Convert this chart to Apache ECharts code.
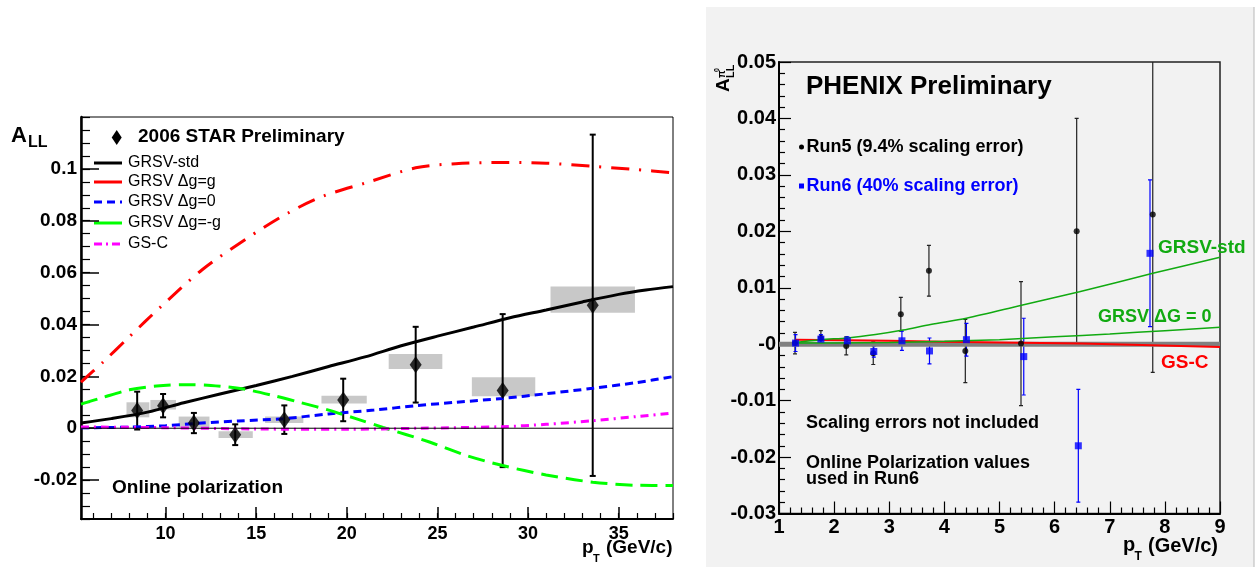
<!DOCTYPE html>
<html><head><meta charset="utf-8">
<script src="https://cdn.jsdelivr.net/npm/echarts@6/dist/echarts.min.js"></script>
<style>html,body{margin:0;padding:0;background:#fff}#c{width:1258px;height:567px}</style>
</head><body><div id="c"></div>
<script>
// ================= LEFT PANEL: STAR =================
const starX   = [8.43, 9.86, 11.56, 13.84, 16.55, 19.8, 23.8, 28.6, 33.57];
const starY   = [0.0068, 0.0087, 0.0020, -0.0025, 0.0033, 0.0109, 0.0245, 0.0145, 0.0474];
const starErr = [0.0073, 0.0045, 0.0039, 0.0040, 0.0055, 0.0082, 0.0146, 0.0295, 0.0658];
const sysXLo  = [7.84, 9.16, 10.72, 12.92, 15.49, 18.6, 22.31, 26.9, 31.24];
const sysXHi  = [9.10, 10.57, 12.42, 14.81, 17.60, 21.1, 25.27, 30.4, 35.9];
const sysYLo  = [0.0042, 0.0072, 0.0004, -0.0038, 0.0020, 0.0095, 0.0228, 0.0123, 0.0445];
const sysYHi  = [0.0100, 0.0109, 0.0045, -0.0012, 0.0045, 0.0125, 0.0286, 0.0197, 0.0546];

const stdX = [5.33, 7, 9, 11, 13, 15, 17, 19, 21, 23, 25, 27, 29, 31, 33, 35, 36.5, 38];
const stdY = [0.0020, 0.0037, 0.0062, 0.0098, 0.0132, 0.0165, 0.0200, 0.0238, 0.0275, 0.0318, 0.0355, 0.0390, 0.0426, 0.0456, 0.0487, 0.0516, 0.0533, 0.0546];
const ggX  = [5.33, 6.5, 8, 9.7, 12, 14.4, 16.76, 18.7, 21, 23.8, 26, 28.6, 31, 33.57, 36, 38];
const ggY  = [0.0178, 0.0252, 0.0353, 0.0466, 0.0610, 0.0728, 0.0830, 0.0895, 0.0945, 0.1004, 0.1020, 0.1025, 0.1022, 0.1010, 0.0997, 0.0985];
const g0X  = [5.33, 8, 10, 12, 14, 16.5, 19, 21.5, 23.8, 26, 28.6, 31, 33.57, 36, 38];
const g0Y  = [0.0002, 0.0004, 0.0010, 0.0020, 0.0028, 0.0037, 0.0055, 0.0070, 0.0087, 0.0100, 0.0115, 0.0133, 0.0154, 0.0176, 0.0199];
const gmX  = [5.33, 6.5, 8, 9.5, 11, 12.5, 14.3, 16, 17.5, 19, 20.5, 22, 24.6, 26.5, 28.6, 31, 33.57, 36, 38];
const gmY  = [0.0093, 0.0118, 0.0148, 0.0163, 0.0168, 0.0165, 0.0151, 0.0125, 0.0098, 0.0070, 0.0037, 0.0003, -0.0054, -0.0103, -0.0144, -0.0180, -0.0208, -0.0220, -0.0221];
const gscX = [5.33, 10, 15, 20, 24, 28.6, 31, 33.57, 36, 38];
const gscY = [0.0005, 0.0002, -0.0003, -0.0004, 0.0000, 0.0006, 0.0015, 0.0029, 0.0045, 0.0059];
const zeroX = [5.33, 38];
const zeroY = [0, 0];

const leftXTicks  = [10, 15, 20, 25, 30, 35];
const leftXLabels = ['10', '15', '20', '25', '30', '35'];
const leftYTicks  = [-0.02, 0, 0.02, 0.04, 0.06, 0.08, 0.1];
const leftYLabels = ['-0.02', '0', '0.02', '0.04', '0.06', '0.08', '0.1'];
const leftXMinor  = [6,7,8,9,10,11,12,13,14,15,16,17,18,19,20,21,22,23,24,25,26,27,28,29,30,31,32,33,34,35,36,37,38];

// ================= RIGHT PANEL: PHENIX =================
const run5X   = [1.29, 1.76, 2.22, 2.71, 3.21, 3.72, 4.38, 5.39, 6.40, 7.78];
const run5Y   = [0.0002, 0.0011, -0.0003, -0.0016, 0.0053, 0.0130, -0.0012, 0.0001, 0.0200, 0.0230];
const run5Err = [0.0019, 0.0013, 0.0016, 0.0020, 0.0030, 0.0045, 0.0056, 0.0110, 0.0200, 0.0280];
const run6X   = [1.30, 1.76, 2.24, 2.72, 3.23, 3.73, 4.40, 5.44, 6.43, 7.73];
const run6Y   = [0.0002, 0.0009, 0.0006, -0.0013, 0.0006, -0.0012, 0.0008, -0.0022, -0.0180, 0.0161];
const run6Err = [0.0015, 0.0008, 0.0007, 0.0010, 0.0017, 0.0023, 0.0029, 0.0068, 0.0100, 0.0130];

const pStdX = [1.3, 1.75, 2.25, 2.75, 3.25, 3.75, 4.4, 5.4, 6.45, 7.8, 9];
const pStdY = [0.0003, 0.0008, 0.0011, 0.0017, 0.0025, 0.0035, 0.0046, 0.0069, 0.0093, 0.0126, 0.0154];
const pG0X  = [1.3, 2, 3, 4, 5, 6, 7, 8, 9];
const pG0Y  = [0.0002, 0.0002, 0.0003, 0.0005, 0.0008, 0.0013, 0.0018, 0.0024, 0.0030];
const pGscX = [1.3, 3, 5, 6.5, 9];
const pGscY = [0.0008, 0.0006, 0.0003, 0.0001, -0.0005];
const bandX = [1, 9];
const bandY = [0, 0];

const rightYLabels = ['-0.03', '-0.02', '-0.01', '-0', '0.01', '0.02', '0.03', '0.04', '0.05'];
const rightXLabels = ['1', '2', '3', '4', '5', '6', '7', '8', '9'];

// ================= helpers =================
const FONT = '"Liberation Sans", Arial, sans-serif';
function zip(a, b) { return a.map((v, i) => [v, b[i]]); }
function lookup(vals, labels, v) {
  let best = 0;
  for (let i = 1; i < vals.length; i++) if (Math.abs(vals[i] - v) < Math.abs(vals[best] - v)) best = i;
  return labels[best];
}
function errItem(color, cap, lw) {
  return function (params, api) {
    const x = api.value(0);
    const a = api.coord([x, api.value(2)]), b = api.coord([x, api.value(1)]);
    const st = { stroke: color, lineWidth: lw };
    return { type: 'group', children: [
      { type: 'line', shape: { x1: a[0], y1: a[1], x2: b[0], y2: b[1] }, style: st },
      { type: 'line', shape: { x1: a[0] - cap, y1: a[1], x2: a[0] + cap, y2: a[1] }, style: st },
      { type: 'line', shape: { x1: b[0] - cap, y1: b[1], x2: b[0] + cap, y2: b[1] }, style: st }
    ]};
  };
}
function boxItem(params, api) {
  const p1 = api.coord([api.value(0), api.value(3)]);
  const p2 = api.coord([api.value(1), api.value(2)]);
  return { type: 'rect', shape: { x: p1[0], y: p1[1], width: p2[0] - p1[0], height: p2[1] - p1[1] }, style: { fill: '#c8c8c8' } };
}
function curve(x, y, color, width, dash, xi, yi, smooth) {
  return { type: 'line', xAxisIndex: xi, yAxisIndex: yi, data: zip(x, y), symbol: 'none', smooth: smooth,
    lineStyle: { color: color, width: width, type: dash }, silent: true, z: 2 };
}

const starErrData = starX.map((x, i) => [x, starY[i] - starErr[i], starY[i] + starErr[i]]);
const sysData = sysXLo.map((x, i) => [x, sysXHi[i], sysYLo[i], sysYHi[i]]);
const run5ErrData = run5X.map((x, i) => [x, run5Y[i] - run5Err[i], run5Y[i] + run5Err[i]]);
const run6ErrData = run6X.map((x, i) => [x, run6Y[i] - run6Err[i], run6Y[i] + run6Err[i]]);

const labelBase = { color: '#000', fontWeight: 'bold', fontFamily: FONT };

const option = {
  backgroundColor: '#fff',
  animation: false,
  textStyle: { fontFamily: FONT },
  grid: [
    { left: 81, top: 117, width: 592, height: 402, show: true, borderColor: '#000', borderWidth: 1, backgroundColor: 'transparent' },
    { left: 779, top: 62, width: 441, height: 451.5, show: true, borderColor: '#222', borderWidth: 1.5, backgroundColor: 'transparent' }
  ],
  xAxis: [
    { gridIndex: 0, type: 'value', position: 'bottom', min: 5.33, max: 38,
      axisLine: { onZero: false, lineStyle: { color: '#000', width: 2 } },
      axisTick: { inside: true, length: 12, customValues: leftXTicks, lineStyle: { color: '#000', width: 1.5 } },
      axisLabel: Object.assign({ customValues: leftXTicks, fontSize: 18, margin: 6,
        formatter: v => lookup(leftXTicks, leftXLabels, v) }, labelBase),
      splitLine: { show: false } },
    { gridIndex: 0, type: 'value', position: 'bottom', min: 5.33, max: 38,
      axisLine: { show: false, onZero: false },
      axisTick: { inside: true, length: 6, customValues: leftXMinor, lineStyle: { color: '#000', width: 1.2 } },
      axisLabel: { show: false }, splitLine: { show: false } },
    { gridIndex: 1, type: 'value', position: 'bottom', min: 1, max: 9, interval: 1,
      axisLine: { onZero: false, lineStyle: { color: '#000', width: 2 } },
      axisTick: { inside: true, length: 12, lineStyle: { color: '#000', width: 1.2 } },
      minorTick: { show: true, splitNumber: 5, length: 6, lineStyle: { color: '#000', width: 1.2 } },
      axisLabel: Object.assign({ fontSize: 20, margin: 4,
        formatter: v => rightXLabels[Math.round(v) - 1] }, labelBase),
      splitLine: { show: false } }
  ],
  yAxis: [
    { gridIndex: 0, type: 'value', position: 'left', min: -0.035, max: 0.12,
      axisLine: { onZero: false, lineStyle: { color: '#000', width: 2.5 } },
      axisTick: { inside: true, length: 18, customValues: leftYTicks, lineStyle: { color: '#000', width: 1.5 } },
      axisLabel: Object.assign({ customValues: leftYTicks, fontSize: 19, margin: 4,
        formatter: v => lookup(leftYTicks, leftYLabels, v) }, labelBase),
      splitLine: { show: false } },
    { gridIndex: 0, type: 'value', position: 'left', min: -0.035, max: 0.12, interval: 0.005,
      axisLine: { show: false, onZero: false },
      axisTick: { inside: true, length: 9, lineStyle: { color: '#000', width: 1.2 } },
      axisLabel: { show: false }, splitLine: { show: false } },
    { gridIndex: 1, type: 'value', position: 'left', min: -0.03, max: 0.05, interval: 0.01,
      axisLine: { onZero: false, lineStyle: { color: '#000', width: 2 } },
      axisTick: { inside: true, length: 12, lineStyle: { color: '#000', width: 1.2 } },
      minorTick: { show: true, splitNumber: 5, length: 6, lineStyle: { color: '#000', width: 1.2 } },
      axisLabel: Object.assign({ fontSize: 20, margin: 3,
        formatter: v => rightYLabels[Math.round(v * 100) + 3] }, labelBase),
      splitLine: { show: false } }
  ],
  series: [
    // left
    { type: 'line', xAxisIndex: 0, yAxisIndex: 0, data: zip(zeroX, zeroY), symbol: 'none', lineStyle: { color: '#000', width: 1 }, silent: true },
    curve(stdX, stdY, '#000000', 3, 'solid', 0, 0, 0.3),
    curve(ggX, ggY, '#ff0000', 3, [18, 10, 2, 10], 0, 0, 0.3),
    curve(g0X, g0Y, '#0000ff', 3, [8, 5], 0, 0, 0.3),
    curve(gmX, gmY, '#00ff00', 3, [17, 8], 0, 0, 0.3),
    curve(gscX, gscY, '#ff00ff', 3, [8, 5, 2, 5], 0, 0, 0.3),
    { type: 'custom', xAxisIndex: 0, yAxisIndex: 0, renderItem: boxItem, data: sysData, encode: { x: [0, 1], y: [2, 3] }, clip: true, silent: true },
    { type: 'custom', xAxisIndex: 0, yAxisIndex: 0, renderItem: errItem('#000', 3, 2), data: starErrData, encode: { x: 0, y: [1, 2] }, clip: true, silent: true },
    { type: 'scatter', xAxisIndex: 0, yAxisIndex: 0, data: zip(starX, starY), symbol: 'diamond', symbolSize: [12, 17], itemStyle: { color: '#000' }, silent: true },
    // right
    curve(bandX, bandY, '#808080', 5, 'solid', 2, 2, false),
    curve(pGscX, pGscY, '#ff0000', 2, 'solid', 2, 2, 0.3),
    curve(pStdX, pStdY, '#11aa11', 1.5, 'solid', 2, 2, 0.3),
    curve(pG0X, pG0Y, '#11aa11', 1.5, 'solid', 2, 2, 0.3),
    { type: 'custom', xAxisIndex: 2, yAxisIndex: 2, renderItem: errItem('#222', 2, 1.2), data: run5ErrData, encode: { x: 0, y: [1, 2] }, clip: true, silent: true },
    { type: 'custom', xAxisIndex: 2, yAxisIndex: 2, renderItem: errItem('#0000ff', 2, 1.2), data: run6ErrData, encode: { x: 0, y: [1, 2] }, clip: true, silent: true },
    { type: 'scatter', xAxisIndex: 2, yAxisIndex: 2, data: zip(run5X, run5Y), symbol: 'circle', symbolSize: 6, itemStyle: { color: '#000' }, silent: true },
    { type: 'scatter', xAxisIndex: 2, yAxisIndex: 2, data: zip(run6X, run6Y), symbol: 'rect', symbolSize: 7, itemStyle: { color: '#0000ff' }, silent: true }
  ],
  graphic: [
    // right panel background
    { type: 'rect', z: -10, shape: { x: 706, y: 7, width: 548, height: 560 }, style: { fill: '#f2f2f2' } },
    { type: 'line', z: -9, shape: { x1: 1254, y1: 7, x2: 1254, y2: 567 }, style: { stroke: '#b8b8b8', lineWidth: 1 } },
    // left titles
    { type: 'text', x: 11, y: 136, style: { text: 'A', font: 'bold 22px ' + FONT, fill: '#000', textVerticalAlign: 'middle' } },
    { type: 'text', x: 28, y: 142.5, style: { text: 'LL', font: 'bold 16px ' + FONT, fill: '#000', textVerticalAlign: 'middle' } },
    { type: 'polygon', shape: { points: [[116.7, 130], [121.7, 137.5], [116.7, 145], [111.7, 137.5]] }, style: { fill: '#000' } },
    { type: 'text', x: 138, y: 137, style: { text: '2006 STAR Preliminary', font: 'bold 19px ' + FONT, fill: '#000', textVerticalAlign: 'middle' } },
    { type: 'line', shape: { x1: 94, y1: 163, x2: 122, y2: 163 }, style: { stroke: '#000', lineWidth: 3 } },
    { type: 'line', shape: { x1: 94, y1: 182, x2: 122, y2: 182 }, style: { stroke: '#ff0000', lineWidth: 3 } },
    { type: 'line', shape: { x1: 94, y1: 202, x2: 122, y2: 202 }, style: { stroke: '#0000ff', lineWidth: 3, lineDash: [8, 5] } },
    { type: 'line', shape: { x1: 94, y1: 223, x2: 122, y2: 223 }, style: { stroke: '#00ff00', lineWidth: 3 } },
    { type: 'line', shape: { x1: 94, y1: 244, x2: 122, y2: 244 }, style: { stroke: '#ff00ff', lineWidth: 3, lineDash: [8, 4, 2, 4] } },
    { type: 'text', x: 128, y: 163, style: { text: 'GRSV-std', font: '16px ' + FONT, fill: '#000', textVerticalAlign: 'middle' } },
    { type: 'text', x: 128, y: 182, style: { text: 'GRSV Δg=g', font: '16px ' + FONT, fill: '#000', textVerticalAlign: 'middle' } },
    { type: 'text', x: 128, y: 202, style: { text: 'GRSV Δg=0', font: '16px ' + FONT, fill: '#000', textVerticalAlign: 'middle' } },
    { type: 'text', x: 128, y: 223, style: { text: 'GRSV Δg=-g', font: '16px ' + FONT, fill: '#000', textVerticalAlign: 'middle' } },
    { type: 'text', x: 128, y: 244, style: { text: 'GS-C', font: '16px ' + FONT, fill: '#000', textVerticalAlign: 'middle' } },
    { type: 'text', x: 112, y: 488, style: { text: 'Online polarization', font: 'bold 19px ' + FONT, fill: '#000', textVerticalAlign: 'middle' } },
    { type: 'text', x: 582, y: 548, style: { text: 'p', font: 'bold 19px ' + FONT, fill: '#000', textVerticalAlign: 'middle' } },
    { type: 'text', x: 593, y: 559, style: { text: 'T', font: 'bold 11px ' + FONT, fill: '#000', textVerticalAlign: 'middle' } },
    { type: 'text', x: 606, y: 548, style: { text: '(GeV/c)', font: 'bold 19px ' + FONT, fill: '#000', textVerticalAlign: 'middle' } },
    // right titles
    { type: 'group', x: 731, y: 92, rotation: Math.PI / 2, children: [
      { type: 'text', x: 0, y: -7, style: { text: 'A', font: 'bold 19px ' + FONT, fill: '#000', textVerticalAlign: 'middle' } },
      { type: 'text', x: 14, y: 0, style: { text: 'LL', font: 'bold 11px ' + FONT, fill: '#000', textVerticalAlign: 'middle' } },
      { type: 'text', x: 14, y: -9, style: { text: 'π', font: 'bold 10px ' + FONT, fill: '#000', textVerticalAlign: 'middle' } },
      { type: 'text', x: 20, y: -14, style: { text: '0', font: 'bold 7px ' + FONT, fill: '#000', textVerticalAlign: 'middle' } }
    ]},
    { type: 'text', x: 806, y: 87, style: { text: 'PHENIX Preliminary', font: 'bold 26px ' + FONT, fill: '#000', textVerticalAlign: 'middle' } },
    { type: 'circle', shape: { cx: 801.5, cy: 147, r: 2.5 }, style: { fill: '#000' } },
    { type: 'text', x: 806.5, y: 147, style: { text: 'Run5 (9.4% scaling error)', font: 'bold 18px ' + FONT, fill: '#000', textVerticalAlign: 'middle' } },
    { type: 'rect', shape: { x: 799, y: 183.5, width: 5, height: 5 }, style: { fill: '#0000ff' } },
    { type: 'text', x: 806.5, y: 186, style: { text: 'Run6 (40% scaling error)', font: 'bold 18px ' + FONT, fill: '#0000ff', textVerticalAlign: 'middle' } },
    { type: 'text', x: 1158, y: 248, style: { text: 'GRSV-std', font: 'bold 19px ' + FONT, fill: '#11aa11', textVerticalAlign: 'middle' } },
    { type: 'text', x: 1098, y: 317, style: { text: 'GRSV ΔG = 0', font: 'bold 18px ' + FONT, fill: '#11aa11', textVerticalAlign: 'middle' } },
    { type: 'text', x: 1161, y: 363, style: { text: 'GS-C', font: 'bold 19px ' + FONT, fill: '#ff0000', textVerticalAlign: 'middle' } },
    { type: 'text', x: 806, y: 423, style: { text: 'Scaling errors not included', font: 'bold 18px ' + FONT, fill: '#000', textVerticalAlign: 'middle' } },
    { type: 'text', x: 806, y: 463, style: { text: 'Online Polarization values', font: 'bold 18px ' + FONT, fill: '#000', textVerticalAlign: 'middle' } },
    { type: 'text', x: 806, y: 479, style: { text: 'used in Run6', font: 'bold 18px ' + FONT, fill: '#000', textVerticalAlign: 'middle' } },
    { type: 'text', x: 1123, y: 545, style: { text: 'p', font: 'bold 20px ' + FONT, fill: '#000', textVerticalAlign: 'middle' } },
    { type: 'text', x: 1134.5, y: 557, style: { text: 'T', font: 'bold 12px ' + FONT, fill: '#000', textVerticalAlign: 'middle' } },
    { type: 'text', x: 1148, y: 546, style: { text: '(GeV/c)', font: 'bold 20px ' + FONT, fill: '#000', textVerticalAlign: 'middle' } }
  ]
};

const chart = echarts.init(document.getElementById('c'), null, { renderer: 'canvas' });
chart.setOption(option);
</script>
</body></html>
